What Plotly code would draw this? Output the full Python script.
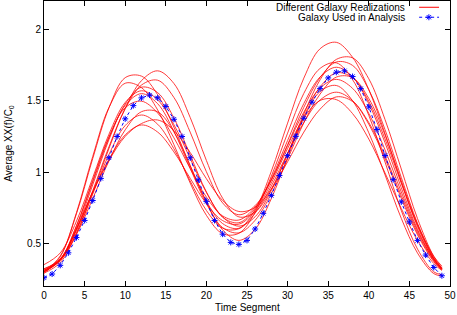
import plotly.graph_objects as go

# time grid used for the realization curves (read every 2 segments)
t_grid = [0, 2, 4, 6, 8, 10, 12, 14, 16, 18, 20, 22, 24, 26, 28, 30, 32, 34, 36, 38, 40, 42, 44, 46, 48, 49]

# different galaxy realizations (red curves)
realizations = [
    [.30, .411, .707, 1.094, 1.45, 1.662, 1.673, 1.542, 1.314, 1.044, .795, .638, .605, .734, 1.006, 1.343, 1.659, 1.865, 1.91, 1.805, 1.578, 1.269, .927, .617, .39, .319],
    [.31, .379, .573, .855, 1.165, 1.447, 1.641, 1.71, 1.621, 1.383, 1.081, .816, .685, .719, .88, 1.128, 1.408, 1.647, 1.79, 1.801, 1.654, 1.368, 1.021, .673, .407, .328],
    [.32, .39, .589, .869, 1.177, 1.444, 1.61, 1.644, 1.523, 1.28, 1.002, .783, .70, .764, .944, 1.192, 1.454, 1.663, 1.772, 1.748, 1.577, 1.297, .962, .64, .398, .323],
    [.29, .405, .715, 1.109, 1.453, 1.623, 1.592, 1.435, 1.192, .923, .696, .567, .57, .716, .971, 1.273, 1.552, 1.727, 1.766, 1.648, 1.397, 1.07, .73, .459, .299, .28],
    [.30, .379, .602, .91, 1.227, 1.477, 1.595, 1.557, 1.379, 1.12, .86, .683, .644, .744, .954, 1.221, 1.481, 1.667, 1.735, 1.668, 1.479, 1.205, .89, .597, .383, .318],
    [.35, .432, .655, .96, 1.265, 1.488, 1.57, 1.506, 1.332, 1.095, .857, .684, .62, .686, .871, 1.127, 1.39, 1.597, 1.696, 1.661, 1.496, 1.232, .922, .628, .409, .339],
    [.31, .382, .62, .93, 1.24, 1.467, 1.55, 1.479, 1.285, 1.027, .777, .61, .573, .661, .848, 1.092, 1.345, 1.547, 1.666, 1.662, 1.516, 1.26, .939, .63, .393, .322],
    [.30, .386, .624, .941, 1.247, 1.451, 1.497, 1.414, 1.24, 1.025, .824, .692, .663, .754, .944, 1.186, 1.42, 1.589, 1.65, 1.587, 1.411, 1.155, .86, .586, .387, .325],
    [.32, .384, .562, .813, 1.078, 1.296, 1.423, 1.422, 1.282, 1.045, .789, .594, .52, .598, .814, 1.102, 1.38, 1.565, 1.607, 1.50, 1.275, .98, .675, .431, .287, .27],
    [.29, .364, .568, .845, 1.123, 1.326, 1.40, 1.335, 1.163, .937, .73, .606, .602, .711, .902, 1.133, 1.348, 1.505, 1.56, 1.501, 1.335, 1.094, .816, .559, .371, .313],
    [.31, .39, .60, .86, 1.08, 1.25, 1.34, 1.365, 1.291, 1.137, .953, .80, .723, .751, .88, 1.072, 1.28, 1.441, 1.527, 1.495, 1.347, 1.112, .835, .572, .377, .315],
    [.30, .38, .60, .86, 1.09, 1.26, 1.33, 1.28, 1.141, .956, .778, .659, .634, .729, .924, 1.165, 1.379, 1.502, 1.508, 1.41, 1.231, .993, .744, .519, .358, .309],
]

# galaxy used in analysis (blue points, one per segment)
t_used = list(range(50))
used = [.258, .284, .345, .433, .54, .66, .80, .955, 1.10, 1.249,
        1.373, 1.466, 1.52, 1.54, 1.52, 1.46, 1.37, 1.249, 1.10, .945,
        .794, .66, .564, .506, .492, .52, .60, .71, .836, .975,
        1.115, 1.25, 1.377, 1.49, 1.585, 1.66, 1.70, 1.71, 1.67, 1.585,
        1.457, 1.298, 1.116, .946, .79, .65, .52, .417, .33, .272]

x_ticks = [0, 5, 10, 15, 20, 25, 30, 35, 40, 45, 50]
y_ticks = [0.5, 1, 1.5, 2]
y_labels = ["0.5", "1", "1.5", "2"]

red = "rgb(255,0,0)"
blue = "rgb(0,0,255)"
font = "Liberation Sans, Arial, sans-serif"

fig = go.Figure()

for vals in realizations:
    fig.add_trace(go.Scatter(x=t_grid, y=vals, mode="lines",
                             line=dict(color=red, width=0.9, shape="spline", smoothing=1),
                             opacity=0.85, showlegend=False, hoverinfo="skip"))

fig.add_trace(go.Scatter(x=t_used, y=used, mode="lines+markers",
                         line=dict(color=blue, width=1, dash="dot"),
                         marker=dict(symbol="asterisk-open", size=5, color=blue,
                                     line=dict(color=blue, width=1)),
                         showlegend=False))

# legend sample marker drawn on a hidden overlay axis (0..1 across the plot)
fig.add_trace(go.Scatter(x=[0.948], y=[0.943], xaxis="x2", yaxis="y2", mode="markers",
                         marker=dict(symbol="asterisk-open", size=5, color=blue,
                                     line=dict(color=blue, width=1)),
                         showlegend=False, hoverinfo="skip"))

# gnuplot-style key: text on the left, sample on the right
fig.add_annotation(x=0.893, y=0.978, xref="paper", yref="paper", text="Different Galaxy Realizations",
                   showarrow=False, xanchor="right", yanchor="middle", font=dict(size=10, family=font, color="black"))
fig.add_annotation(x=0.893, y=0.943, xref="paper", yref="paper", text="Galaxy Used in Analysis",
                   showarrow=False, xanchor="right", yanchor="middle", font=dict(size=10, family=font, color="black"))
fig.add_shape(type="line", xref="paper", yref="paper", x0=0.924, x1=0.973, y0=0.978, y1=0.978,
              line=dict(color=red, width=1))
fig.add_shape(type="line", xref="paper", yref="paper", x0=0.924, x1=0.973, y0=0.943, y1=0.943,
              line=dict(color=blue, width=1, dash="dot"))

# axis titles placed like the original
fig.add_annotation(x=0.5, y=-0.075, xref="paper", yref="paper", text="Time Segment",
                   showarrow=False, xanchor="center", yanchor="middle", font=dict(size=10, family=font, color="black"))
fig.add_annotation(x=-0.088, y=0.5, xref="paper", yref="paper", text="Average XX(f)/C<sub>0</sub>",
                   textangle=-90, showarrow=False, xanchor="center", yanchor="middle",
                   font=dict(size=10, family=font, color="black"))

axis_common = dict(showline=True, linecolor="black", linewidth=1, mirror="ticks",
                   ticks="inside", ticklen=5, tickcolor="black", showgrid=False, zeroline=False,
                   automargin=False, tickfont=dict(size=10, family=font, color="black"))

fig.update_layout(
    width=457, height=315,
    margin=dict(l=44, r=7, t=1, b=29),
    paper_bgcolor="white", plot_bgcolor="white",
    font=dict(family=font, size=10, color="black"),
    xaxis=dict(range=[0, 50], tickvals=x_ticks, **axis_common),
    yaxis=dict(range=[0.2, 2.2], tickvals=y_ticks, ticktext=y_labels, **axis_common),
    xaxis2=dict(overlaying="x", range=[0, 1], visible=False),
    yaxis2=dict(overlaying="y", range=[0, 1], visible=False),
)

# page body margin would shift the chart, so drop it
fig.write_html("out.html", config={"displayModeBar": False},
               post_script="document.body.style.margin='0';")
